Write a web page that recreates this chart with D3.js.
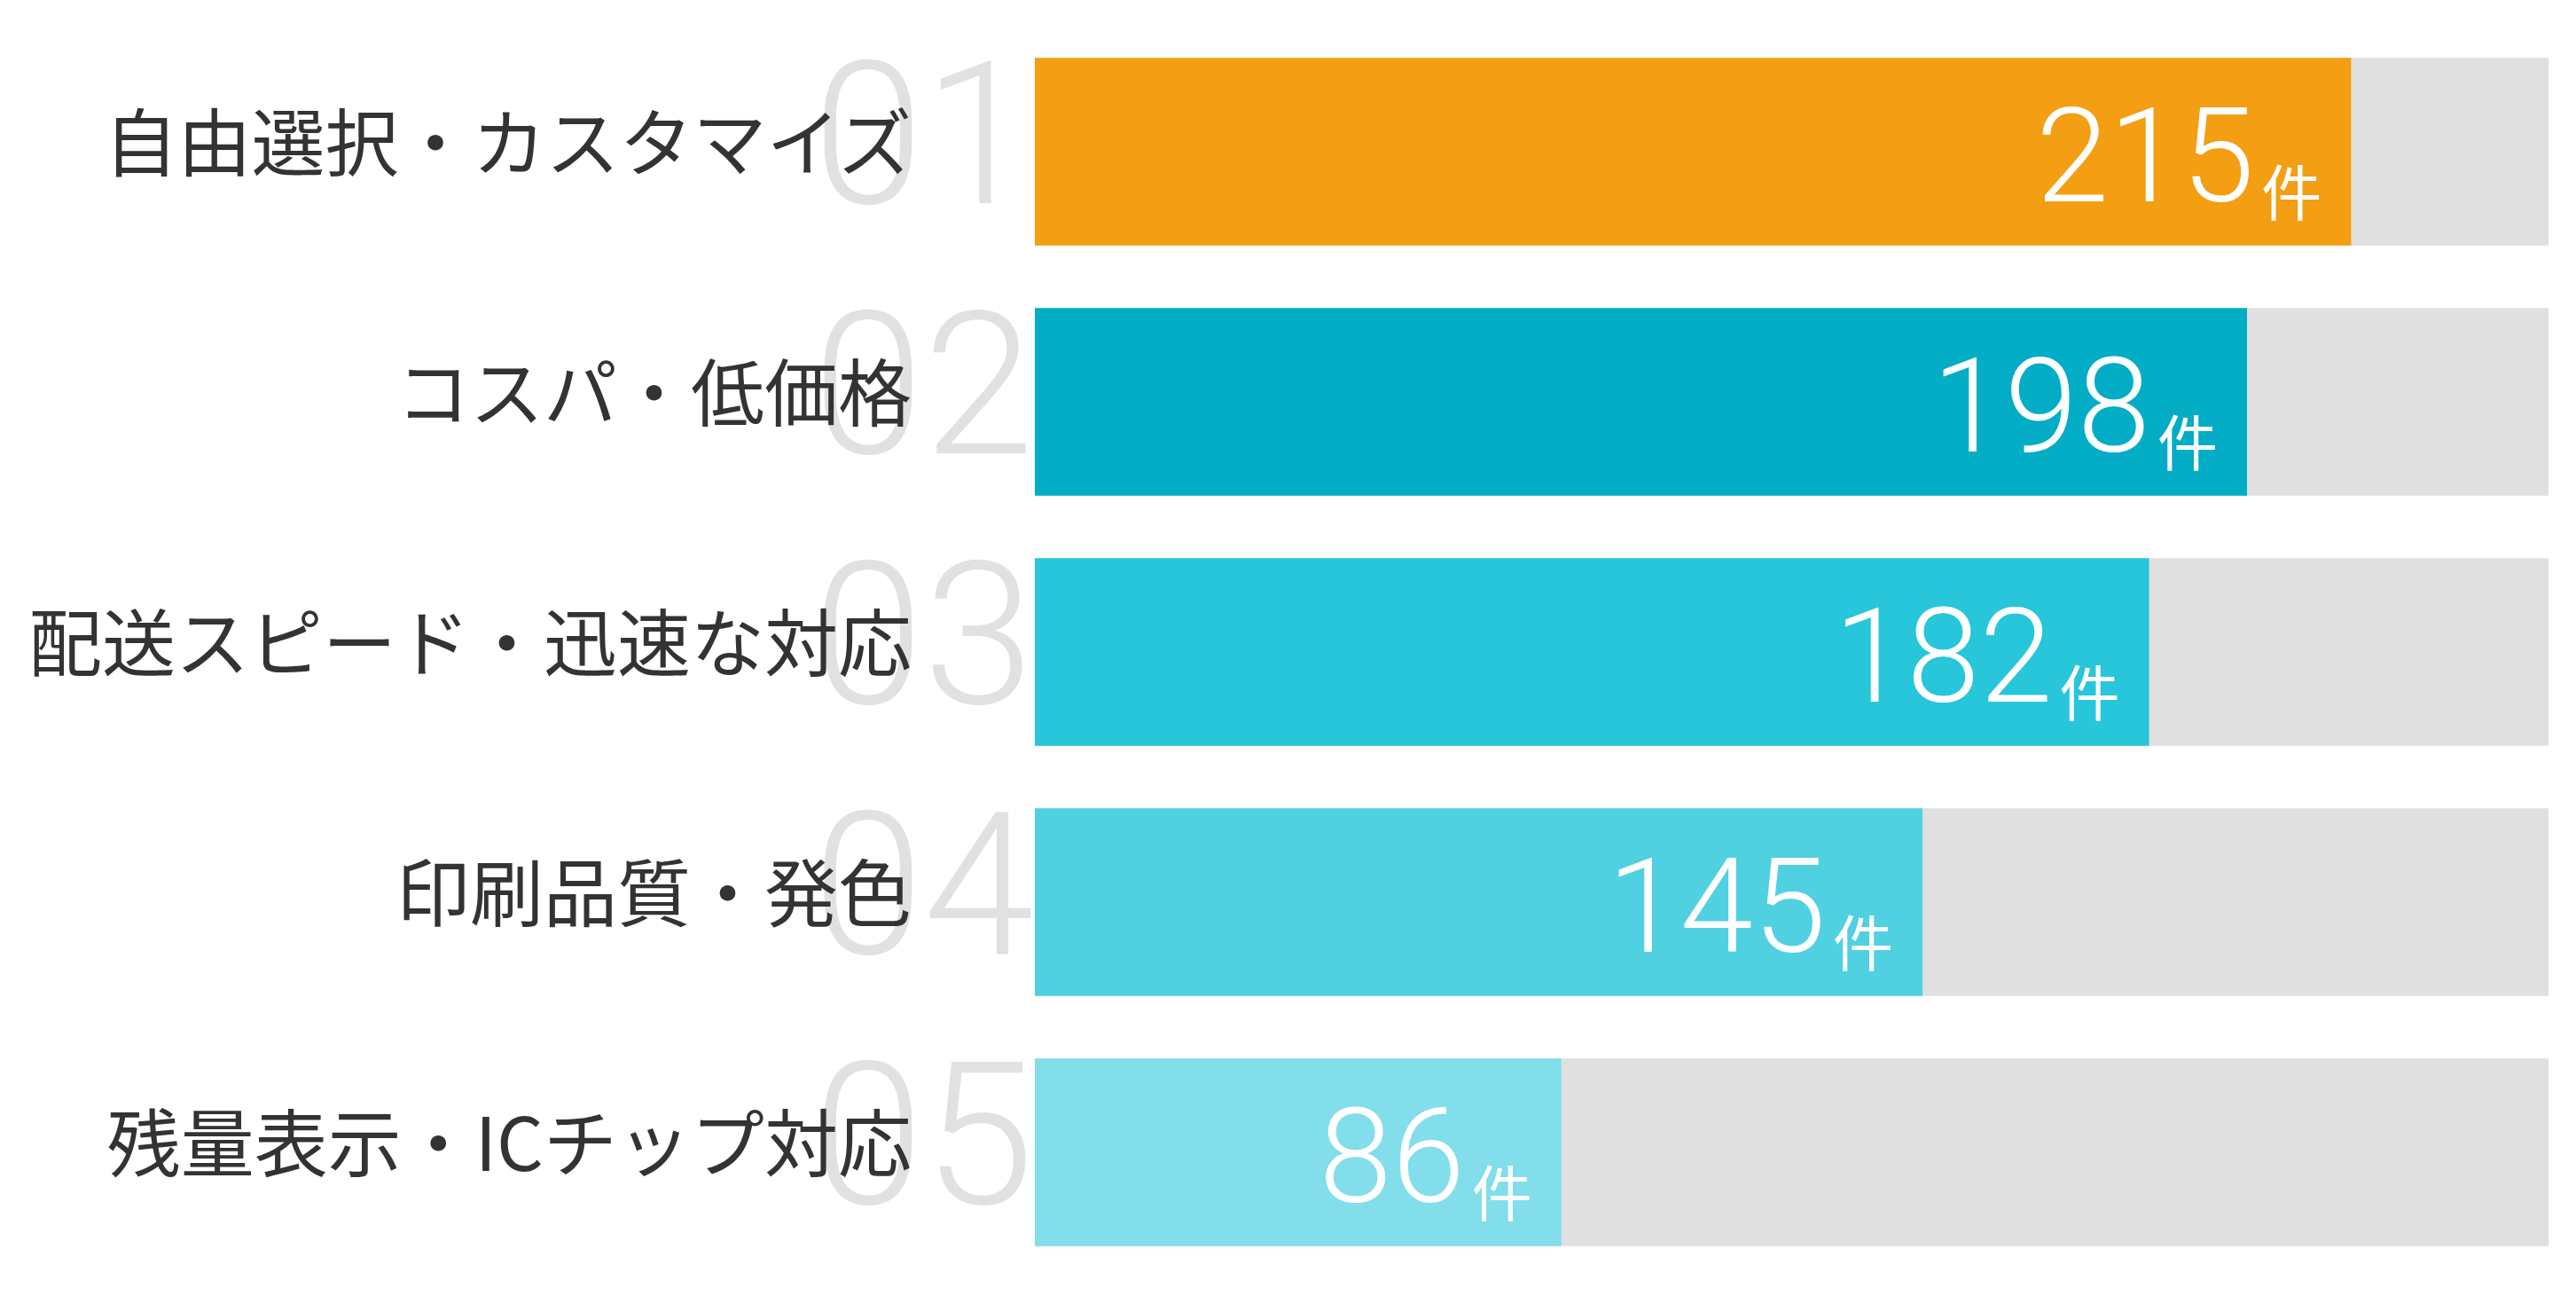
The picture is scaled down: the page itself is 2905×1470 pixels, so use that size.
<!DOCTYPE html>
<html>
<head>
<meta charset="utf-8">
<script src="https://cdn.jsdelivr.net/npm/d3@7"></script>
<style>
  html, body { margin: 0; padding: 0; background: #ffffff; }
  svg { display: block; }
</style>
</head>
<body>
<svg id="chart" width="2905" height="1470"></svg>
<script>
const categories = [
  "自由選択・カスタマイズ",
  "コスパ・低価格",
  "配送スピード・迅速な対応",
  "印刷品質・発色",
  "残量表示・ICチップ対応"
];
const values = [215, 198, 182, 145, 86];
const ranks = ["01", "02", "03", "04", "05"];
const colors = ["#F39E13", "#02ADC5", "#27C6DA", "#4FD1E2", "#82DEEA"];
const unit = "件";

const W = 2905, H = 1470;
const svg = d3.select("#chart");
svg.append("rect").attr("width", W).attr("height", H).attr("fill", "#ffffff");

const x = d3.scaleLinear()
  .domain([0, d3.max(values) * 1.15])
  .range([1167, 2874]);

const y = d3.scaleBand()
  .domain(categories)
  .range([30, 1440])
  .paddingInner(0.25)
  .paddingOuter(0.125);

const rows = categories.map((c, i) => ({ cat: c, val: values[i], rank: ranks[i], color: colors[i] }));

const g = svg.selectAll("g.row").data(rows).join("g").attr("class", "row");
const cy = d => y(d.cat) + y.bandwidth() / 2;

// big rank numbers (background)
g.append("text")
  .attr("x", x(0) - 1)
  .attr("y", d => cy(d) + 58)
  .attr("text-anchor", "end")
  .attr("font-family", "Roboto, 'Noto Sans', sans-serif")
  .attr("font-weight", 300)
  .attr("font-size", 225)
  .attr("fill", "#E1E1E1")
  .text(d => d.rank);

// category labels
g.append("text")
  .attr("x", 1028)
  .attr("y", d => cy(d) + 21)
  .attr("text-anchor", "end")
  .attr("font-family", "'Noto Sans CJK JP', sans-serif")
  .attr("font-weight", 400)
  .attr("font-size", 83)
  .attr("fill", "#333333")
  .text(d => d.cat);

// track
g.append("rect")
  .attr("x", x(0))
  .attr("y", d => y(d.cat))
  .attr("width", x.range()[1] - x(0))
  .attr("height", y.bandwidth())
  .attr("fill", "#E0E0E0");

// bar
g.append("rect")
  .attr("x", x(0))
  .attr("y", d => y(d.cat))
  .attr("width", d => x(d.val) - x(0))
  .attr("height", y.bandwidth())
  .attr("fill", d => d.color);

// value labels
const vt = g.append("text")
  .attr("x", d => x(d.val) - 33)
  .attr("y", d => cy(d) + 56)
  .attr("text-anchor", "end")
  .attr("fill", "#ffffff");
vt.append("tspan")
  .attr("font-family", "Roboto, 'Noto Sans', sans-serif")
  .attr("font-weight", 300)
  .attr("font-size", 148)
  .text(d => d.val);
vt.append("tspan")
  .attr("dx", 8)
  .attr("dy", 16)
  .attr("font-family", "'Noto Sans CJK JP', sans-serif")
  .attr("font-weight", 400)
  .attr("font-size", 68)
  .text(unit);
</script>
</body>
</html>
